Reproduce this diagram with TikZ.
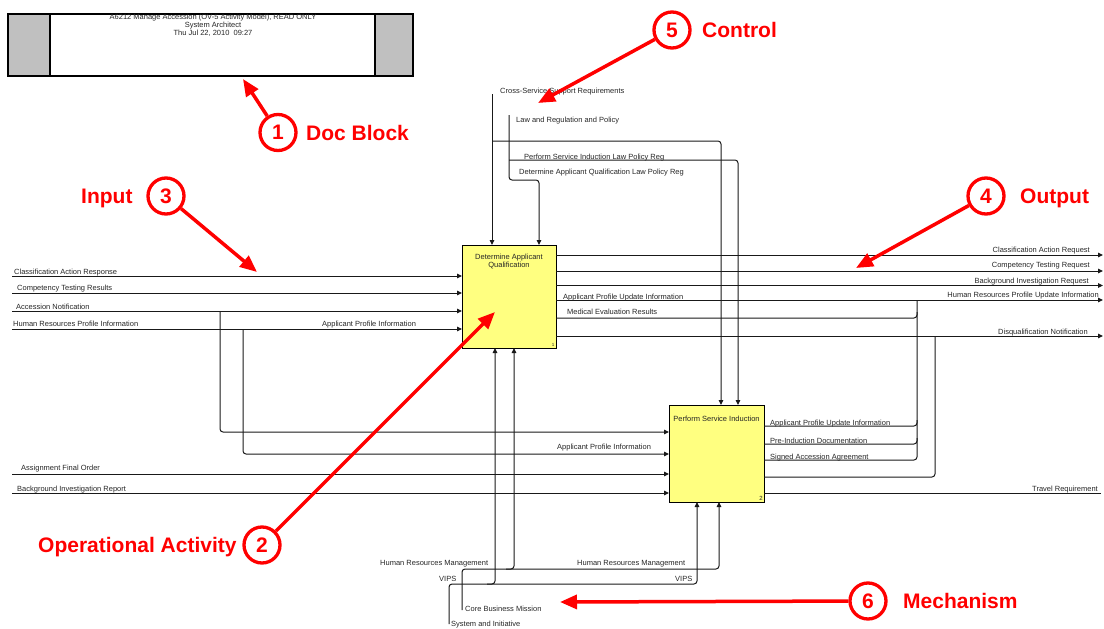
\documentclass[tikz,border=0pt]{standalone}
\usepackage{fontspec}
\setmainfont{Liberation Sans}
\usetikzlibrary{arrows.meta}
\definecolor{calloutred}{RGB}{255,0,0}
\definecolor{actfill}{RGB}{255,255,128}
\definecolor{panelgray}{RGB}{192,192,192}
\begin{document}
\begin{tikzpicture}[x=1pt,y=-1pt,
  line/.style={draw=black!90, line width=1pt, rounded corners=3pt},
  flow/.style={line, -{Triangle[length=5pt,width=4.5pt]}},
  act/.style={draw=black, line width=1pt, fill=actfill, anchor=north west, inner sep=0pt, outer sep=0pt},
  lbl/.style={font=\fontsize{7.5}{8.5}\selectfont, text=black!85, inner sep=0pt},
  lw/.style={lbl, anchor=base west},
  le/.style={lbl, anchor=base east},
  callnum/.style={circle, draw=calloutred, line width=3.3pt, fill=white, minimum size=36pt, inner sep=0pt, text=calloutred, font=\fontsize{21}{21}\selectfont\bfseries},
  calltext/.style={text=calloutred, font=\fontsize{21}{25}\selectfont\bfseries, inner sep=0pt, anchor=base west},
  callarrow/.style={draw=calloutred, line width=3.5pt, -{Triangle[length=17pt,width=14pt]}}
]
\useasboundingbox (0,0) rectangle (1104,629);

% ---------- documentation block ----------
\node[draw=black, line width=1.2pt, fill=white, minimum width=405pt, minimum height=62pt, anchor=north west, inner sep=0pt, outer sep=0pt] (doc) at (8,14) {};
\node[draw=black, line width=1.2pt, fill=panelgray, minimum width=42pt, minimum height=62pt, anchor=north west, inner sep=0pt, outer sep=0pt] (docL) at (8,14) {};
\node[draw=black, line width=1.2pt, fill=panelgray, minimum width=38pt, minimum height=62pt, anchor=north west, inner sep=0pt, outer sep=0pt] (docR) at (375,14) {};
\node[lbl, anchor=base] (docT1) at (213,19.5) {A6212 Manage Accession (OV-5 Activity Model), READ ONLY};
\node[lbl, anchor=base] (docT2) at (213,27.5) {System Architect};
\node[lbl, anchor=base] (docT3) at (213,35) {Thu Jul 22, 2010\ \ 09:27};

% ---------- activity boxes ----------
\node[act, minimum width=94pt, minimum height=103pt] (A1) at (462,245) {};
\node[lbl, align=center, anchor=base] (A1t) at (509,267.5) {Determine Applicant\\Qualification};
\node[lbl, font=\fontsize{4.5}{5}\selectfont, anchor=base] (A1n) at (553,346) {1};
\node[act, minimum width=95pt, minimum height=97pt] (A2) at (669,405) {};
\node[lbl, anchor=base] (A2t) at (716.5,421) {Perform Service Induction};
\node[lbl, font=\fontsize{6}{6}\selectfont, anchor=base] (A2n) at (761,500) {2};

% ---------- inputs ----------
\coordinate (inCAR) at (12,276);
\coordinate (inCTR) at (12,293);
\coordinate (inAN)  at (12,311);
\coordinate (inHRP) at (12,329);
\coordinate (inAFO) at (12,474);
\coordinate (inBIR) at (12,493);
\draw[flow] (inCAR) -- (inCAR -| A1.west);
\draw[flow] (inCTR) -- (inCTR -| A1.west);
\draw[flow] (inAN)  -- (inAN -| A1.west);
\draw[flow] (inHRP) -- (inHRP -| A1.west);
\draw[flow] (inAFO) -- (inAFO -| A2.west);
\draw[flow] (inBIR) -- (inBIR -| A2.west);
\coordinate (jAN) at (220,311);
\coordinate (kAN) at (220,432);
\draw[flow] (jAN) -- (kAN) -- (kAN -| A2.west);
\coordinate (jHRP) at (243,329);
\coordinate (kHRP) at (243,454);
\draw[flow] (jHRP) -- (kHRP) -- (kHRP -| A2.west);

\node[lw] (lCAR) at (14,274) {Classification Action Response};
\node[lw] (lCTR) at (17,290) {Competency Testing Results};
\node[lw] (lAN)  at (16,309) {Accession Notification};
\node[lw] (lHRP) at (13,326) {Human Resources Profile Information};
\node[lw] (lAPI1) at (322,326) {Applicant Profile Information};
\node[lw] (lAPI2) at (557,449) {Applicant Profile Information};
\node[lw] (lAFO) at (21,470) {Assignment Final Order};
\node[lw] (lBIR) at (17,491) {Background Investigation Report};

% ---------- outputs ----------
\coordinate (outCAR) at (1103,255);
\coordinate (outCTR) at (1103,271);
\coordinate (outBIR) at (1103,285.5);
\coordinate (outHRU) at (1103,300);
\coordinate (outDQ)  at (1103,336);
\coordinate (outTR)  at (1101,493);
\draw[flow] (outCAR -| A1.east) -- (outCAR);
\draw[flow] (outCTR -| A1.east) -- (outCTR);
\draw[flow] (outBIR -| A1.east) -- (outBIR);
\draw[flow] (outHRU -| A1.east) -- (outHRU);
\draw[flow] (outDQ -| A1.east) -- (outDQ);
\draw[line] (outTR -| A2.east) -- (outTR);

% outputs merging into the update line
\coordinate (jHRU) at (917,300);
\coordinate (kMER) at (917,318);
\coordinate (kAPU) at (917,426);
\coordinate (kPID) at (917,444);
\coordinate (kSAA) at (917,460);
\draw[line] (kMER -| A1.east) -- (kMER) -- ++(0,-6);
\draw[line] (kAPU -| A2.east) -- (kAPU) -- ++(0,-6);
\draw[line] (kPID -| A2.east) -- (kPID) -- ++(0,-6);
\draw[line] (kSAA -| A2.east) -- (kSAA) -- (jHRU);
% output merging into the disqualification line
\coordinate (jDQ) at (935,336);
\coordinate (kDQ) at (935,477);
\draw[line] (kDQ -| A2.east) -- (kDQ) -- (jDQ);

\node[le] (lCARq) at (1090,252) {Classification Action Request};
\node[le] (lCTRq) at (1090,267) {Competency Testing Request};
\node[le] (lBIRq) at (1089,283) {Background Investigation Request};
\node[le] (lHRU)  at (1099,297.5) {Human Resources Profile Update Information};
\node[le] (lDQ)   at (1088,334) {Disqualification Notification};
\node[lw] (lAPU1) at (563,299) {Applicant Profile Update Information};
\node[lw] (lMER)  at (567,314) {Medical Evaluation Results};
\node[lw] (lAPU2) at (770,425) {Applicant Profile Update Information};
\node[lw] (lPID)  at (770,443) {Pre-Induction Documentation};
\node[lw] (lSAA)  at (770,459) {Signed Accession Agreement};
\node[le] (lTR)   at (1098,491) {Travel Requirement};

% ---------- controls ----------
\coordinate (cCSS) at (492,94);
\draw[flow] (cCSS) -- (cCSS |- A1.north);
\coordinate (jCSS) at (492,141);
\coordinate (kCSS) at (721,141);
\draw[flow] (jCSS) -- (kCSS) -- (kCSS |- A2.north);
\coordinate (cLRP) at (509,115);
\coordinate (kLRP1) at (509,180);
\coordinate (kLRP2) at (539,180);
\draw[flow] (cLRP) -- (kLRP1) -- (kLRP2) -- (kLRP2 |- A1.north);
\coordinate (jLRP) at (509,160);
\coordinate (kLRP3) at (738,160);
\draw[flow] (jLRP) -- (kLRP3) -- (kLRP3 |- A2.north);

\node[lw] (lCSS)  at (500,93.5) {Cross-Service Support Requirements};
\node[lw] (lLRP)  at (516,122.5) {Law and Regulation and Policy};
\node[lw] (lPSIL) at (524,159) {Perform Service Induction Law Policy Reg};
\node[lw] (lDAQL) at (519,174.5) {Determine Applicant Qualification Law Policy Reg};

% ---------- mechanisms ----------
\coordinate (mCBM) at (462,610);
\coordinate (kCBM) at (462,569);
\coordinate (kHRM) at (719,569);
\draw[flow] (mCBM) -- (kCBM) -- (kHRM) -- (kHRM |- A2.south);
\coordinate (jHRM) at (506,569);
\coordinate (kHRM1) at (514,569);
\draw[flow] (jHRM) -- (kHRM1) -- (kHRM1 |- A1.south);
\coordinate (mSI) at (449,624);
\coordinate (kSI) at (449,584);
\coordinate (kVIPS) at (697,584);
\draw[flow] (mSI) -- (kSI) -- (kVIPS) -- (kVIPS |- A2.south);
\coordinate (jVIPS) at (487,584);
\coordinate (kVIPS1) at (495,584);
\draw[flow] (jVIPS) -- (kVIPS1) -- (kVIPS1 |- A1.south);

\node[lw] (lHRM1) at (380,565) {Human Resources Management};
\node[lw] (lHRM2) at (577,565) {Human Resources Management};
\node[lw] (lVIPS1) at (439,581.5) {VIPS};
\node[lw] (lVIPS2) at (675,581.5) {VIPS};
\node[lw] (lCBM) at (465,611.5) {Core Business Mission};
\node[lw] (lSI)  at (451,626.5) {System and Initiative};

% ---------- callouts ----------
\coordinate (t1) at (243,79);
\coordinate (t2) at (495,312);
\coordinate (t3) at (257,272);
\coordinate (t4) at (856,268);
\coordinate (t5) at (538,103);
\coordinate (t6) at (560,602);
\node[callnum] (n1) at (278,132.5) {1};
\node[callnum] (n2) at (262,545) {2};
\node[callnum] (n3) at (166,196) {3};
\node[callnum] (n4) at (986,196) {4};
\node[callnum] (n5) at (672,30) {5};
\node[callnum] (n6) at (868,601) {6};
\draw[callarrow] (n1) -- (t1);
\draw[callarrow] (n2) -- (t2);
\draw[callarrow] (n3) -- (t3);
\draw[callarrow] (n4) -- (t4);
\draw[callarrow] (n5) -- (t5);
\draw[callarrow] (n6) -- (t6);
\node[calltext] (c1) at (306,140.5) {Doc Block};
\node[calltext] (c2) at (38,552.5) {Operational Activity};
\node[calltext] (c3) at (81,203.5) {Input};
\node[calltext] (c4) at (1020,203.5) {Output};
\node[calltext] (c5) at (702,37) {Control};
\node[calltext] (c6) at (903,608.5) {Mechanism};
\end{tikzpicture}
\end{document}
